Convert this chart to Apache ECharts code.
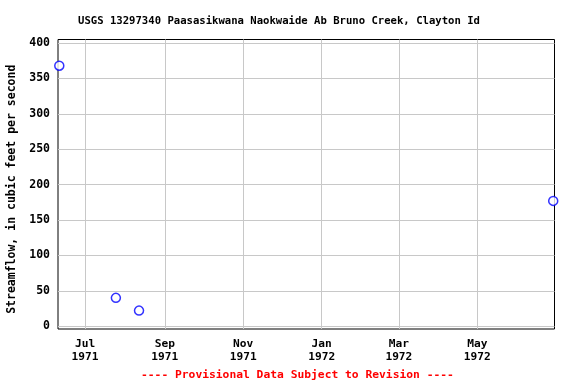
<!DOCTYPE html>
<html>
<head>
<meta charset="utf-8">
<script src="https://cdn.jsdelivr.net/npm/echarts@6/dist/echarts.min.js"></script>
<style>html,body{margin:0;padding:0;background:#fff}#c{width:576px;height:384px}</style>
</head>
<body>
<div id="c"></div>
<script>
var titleText = 'USGS 13297340 Paasasikwana Naokwaide Ab Bruno Creek, Clayton Id';
var yAxisName = 'Streamflow, in cubic feet per second';
var footerText = '---- Provisional Data Subject to Revision ----';
var dates = ['1971-06-11', '1971-07-25', '1971-08-12', '1972-06-29'];
var flows = [368, 40, 22, 177];
var xTickDates = ['1971-07-01', '1971-09-01', '1971-11-01', '1972-01-01', '1972-03-01', '1972-05-01'];
var yTicks = [0, 50, 100, 150, 200, 250, 300, 350, 400];
var xRange = ['1971-06-10', '1972-06-30'];
var yRange = [-4, 405];
var monthNames = ['Jan','Feb','Mar','Apr','May','Jun','Jul','Aug','Sep','Oct','Nov','Dec'];

function ts(s) { var p = s.split('-'); return Date.UTC(+p[0], +p[1] - 1, +p[2]); }
var xTicks = xTickDates.map(ts);
var data = dates.map(function (d, i) { return [ts(d), flows[i]]; });
var font = 'DejaVu Sans Mono';

var chart = echarts.init(document.getElementById('c'), null, {renderer: 'canvas'});
chart.setOption({
  animation: false,
  backgroundColor: '#fff',
  title: {
    text: titleText, left: 274, top: 11, textAlign: 'center',
    textStyle: {fontFamily: font, fontSize: 10.6, fontWeight: 'bold', color: '#000'}
  },
  graphic: [{
    type: 'text', left: 298 - 157, top: 370,
    style: {text: footerText, fill: '#ff0000', font: 'bold 11.3px "DejaVu Sans Mono"'}
  }],
  grid: {left: 58, right: 21.5, top: 39.5, bottom: 55, show: true, borderColor: '#000', borderWidth: 1,
         backgroundColor: 'transparent', containLabel: false, outerBoundsMode: 'none'},
  xAxis: {
    type: 'value', min: ts(xRange[0]), max: ts(xRange[1]),
    axisLine: {show: false},
    axisTick: {show: false, customValues: xTicks},
    splitLine: {show: true, lineStyle: {color: '#c8c8c8', width: 1}},
    axisLabel: {
      customValues: xTicks, margin: 9, lineHeight: 13,
      fontFamily: font, fontSize: 11.2, fontWeight: 'bold', color: '#000',
      formatter: function (v) { var d = new Date(v); return monthNames[d.getUTCMonth()] + '\n' + d.getUTCFullYear(); }
    }
  },
  yAxis: {
    type: 'value', min: yRange[0], max: yRange[1],
    name: yAxisName, nameLocation: 'middle', nameGap: 40,
    nameTextStyle: {fontFamily: font, fontSize: 11.5, fontWeight: 'bold', color: '#000', padding: [0, 10, 0, 0]},
    axisLine: {show: false},
    axisTick: {show: false, customValues: yTicks},
    splitLine: {show: true, lineStyle: {color: '#c8c8c8', width: 1}},
    axisLabel: {customValues: yTicks, margin: 8, fontFamily: font, fontSize: 11.5, fontWeight: 'bold', color: '#000'}
  },
  series: [{
    type: 'scatter', data: data, symbol: 'circle', symbolSize: 9,
    itemStyle: {color: '#fff', borderColor: '#0000ff', borderWidth: 1.5},
    clip: false
  }]
});
</script>
</body>
</html>
